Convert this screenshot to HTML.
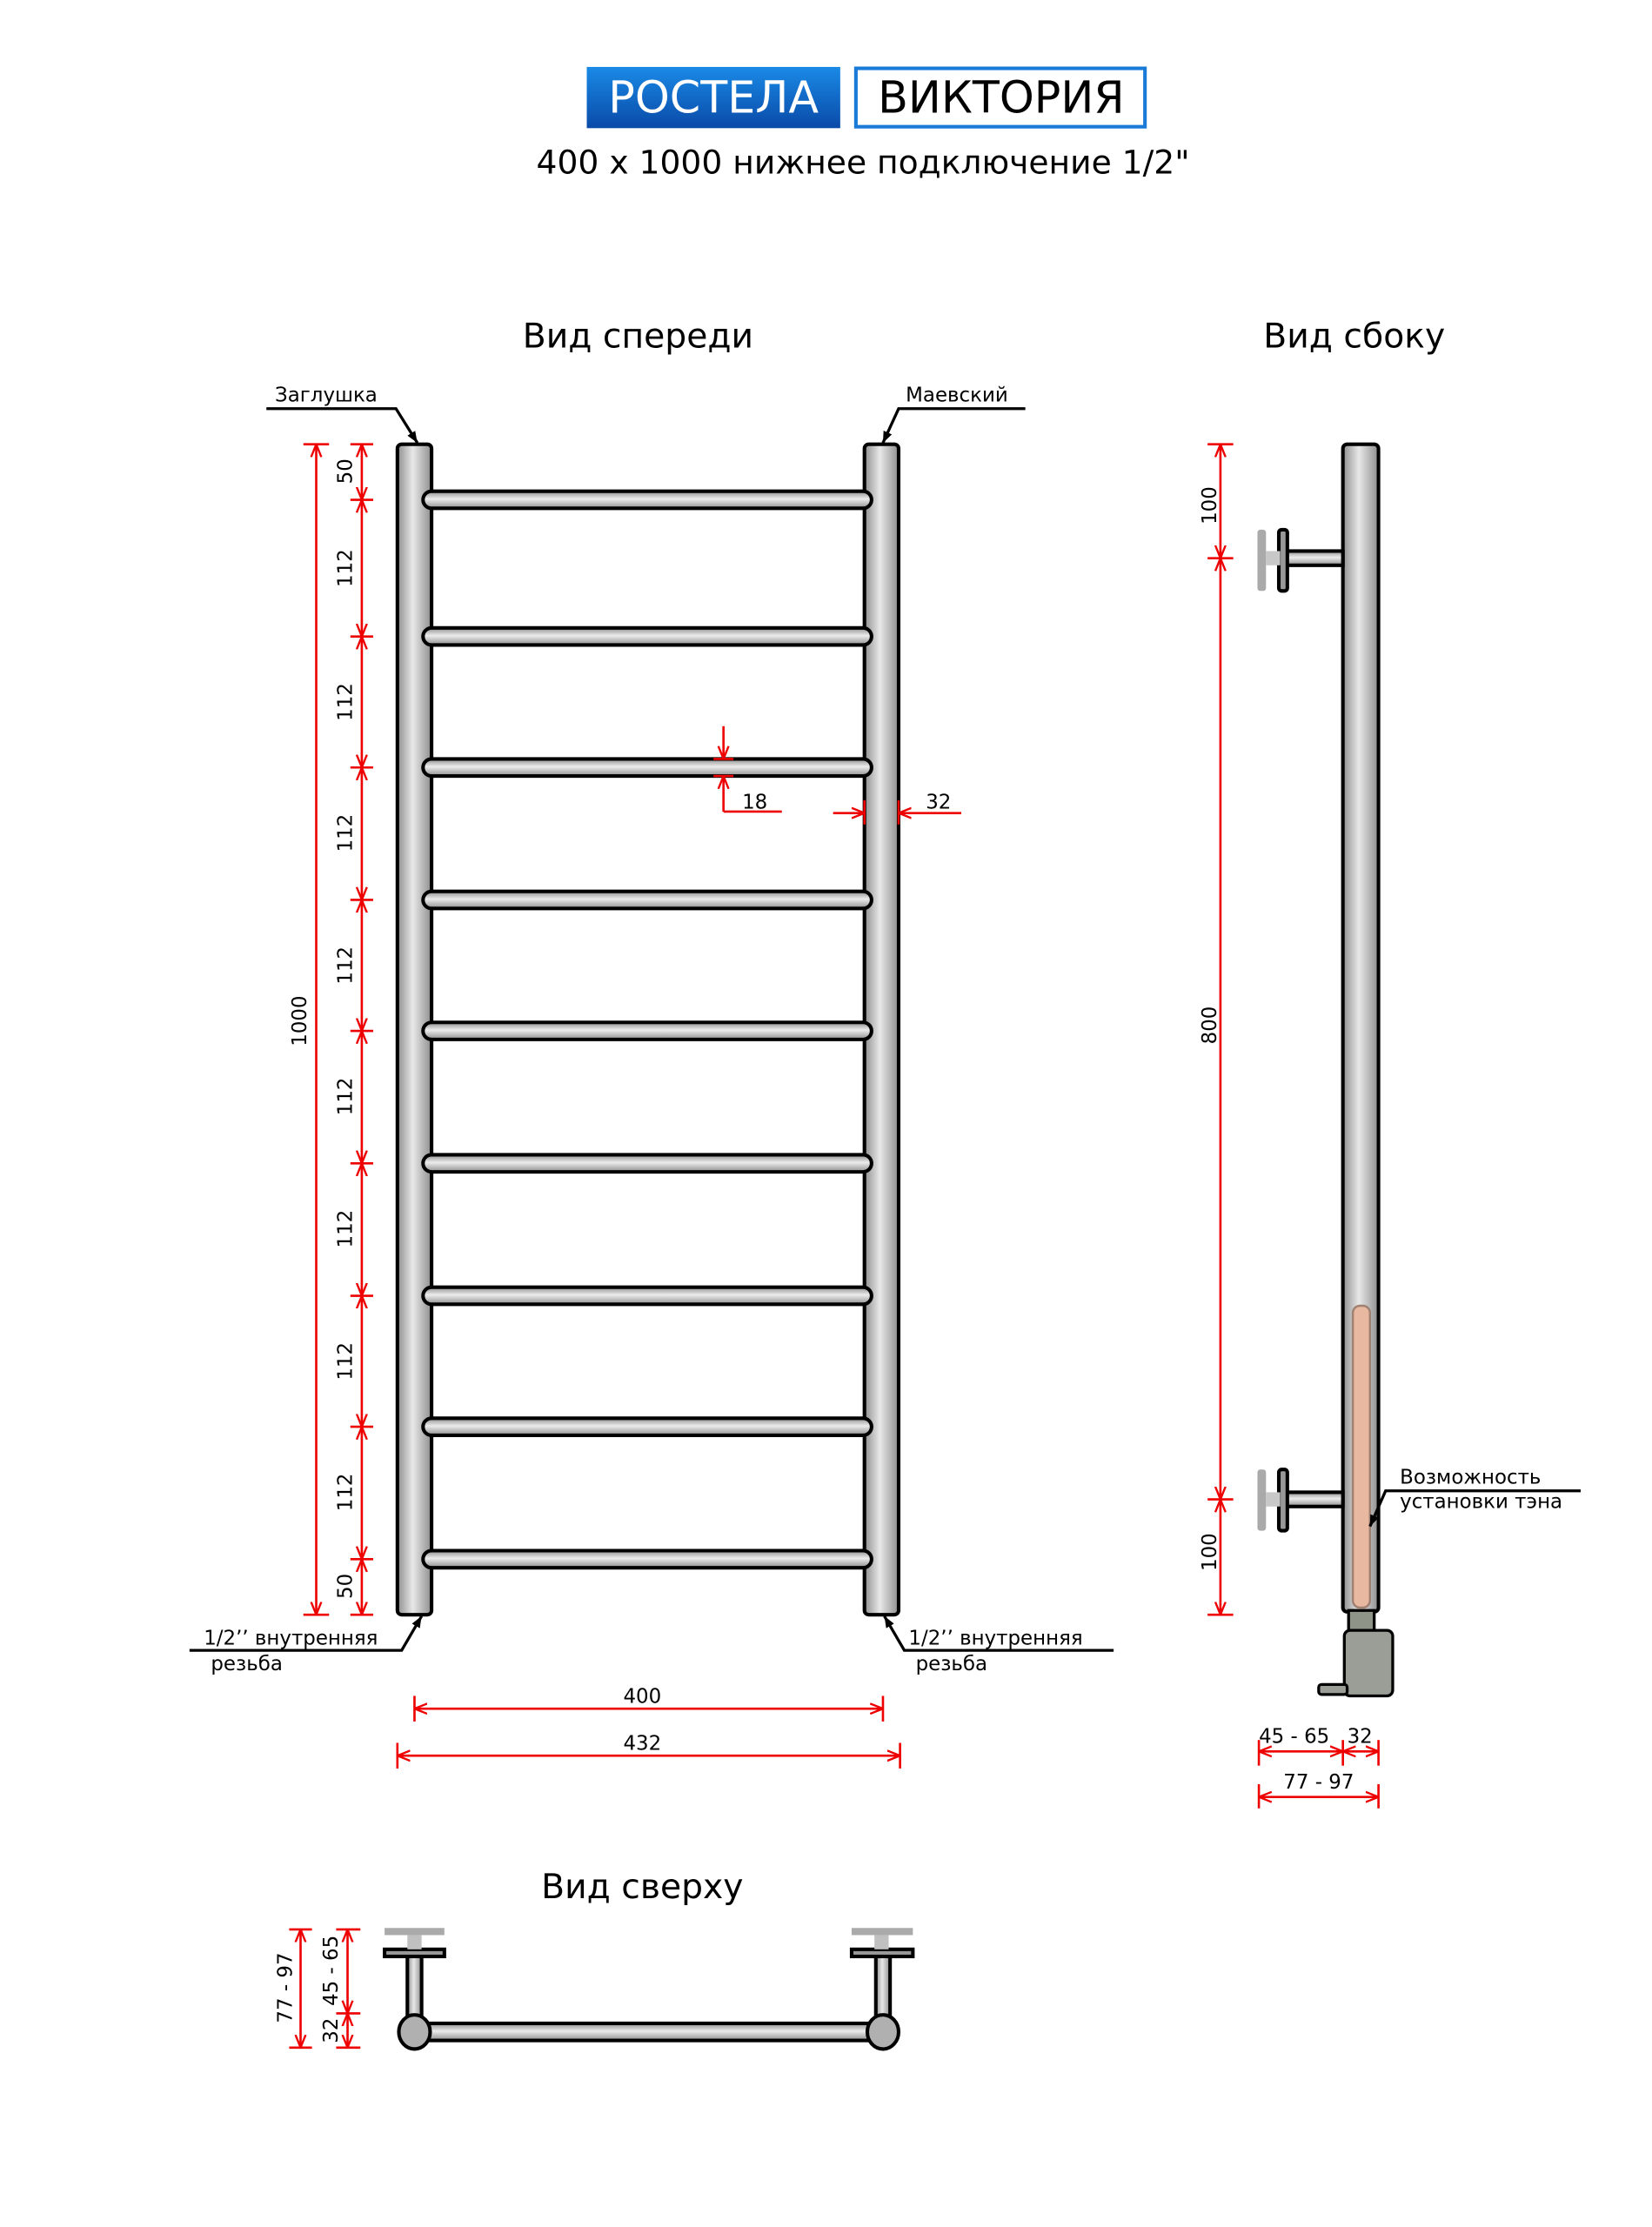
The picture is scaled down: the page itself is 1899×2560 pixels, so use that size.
<!DOCTYPE html>
<html><head><meta charset="utf-8"><style>html,body{margin:0;padding:0;background:#fff}svg{display:block}</style></head><body>
<svg width="1899" height="2560" viewBox="0 0 1160 1564" xmlns="http://www.w3.org/2000/svg" font-family="'DejaVu Sans','Liberation Sans',sans-serif">
<defs>
<linearGradient id="tv" x1="0" x2="1" y1="0" y2="0"><stop offset="0" stop-color="#8e8e8e"/><stop offset="0.45" stop-color="#e8e8e8"/><stop offset="1" stop-color="#8e8e8e"/></linearGradient>
<linearGradient id="th" x1="0" x2="0" y1="0" y2="1"><stop offset="0" stop-color="#8e8e8e"/><stop offset="0.45" stop-color="#ececec"/><stop offset="1" stop-color="#8e8e8e"/></linearGradient>
<linearGradient id="bl" x1="0" x2="0" y1="0" y2="1"><stop offset="0" stop-color="#1a8ae6"/><stop offset="1" stop-color="#0a4aa8"/></linearGradient>
<marker id="a" viewBox="0 0 10 10" refX="10" refY="5" markerWidth="9" markerHeight="9" orient="auto-start-reverse" markerUnits="userSpaceOnUse"><path d="M0,1 L10,5 L0,9" fill="none" stroke="#e00" stroke-width="1.6"/></marker>
<marker id="k" viewBox="0 0 10 10" refX="10" refY="5" markerWidth="8" markerHeight="8" orient="auto" markerUnits="userSpaceOnUse"><path d="M0,1 L10,5 L0,9 z" fill="#000"/></marker>
</defs>

<rect x="412" y="47" width="178" height="43" fill="url(#bl)"/>
<text x="501" y="79" font-size="31" fill="#fff" text-anchor="middle">РОСТЕЛА</text>
<rect x="601" y="48" width="203" height="41" fill="#fff" stroke="#1a7ad8" stroke-width="2.5"/>
<text x="703" y="79" font-size="31" fill="#000" text-anchor="middle">ВИКТОРИЯ</text>
<text x="606" y="122" font-size="23" text-anchor="middle">400 x 1000 нижнее подключение 1/2"</text>

<g font-size="24" text-anchor="middle" font-weight="500">
<text x="448" y="244">Вид спереди</text>
<text x="951" y="244">Вид сбоку</text>
<text x="451" y="1333">Вид сверху</text>
</g>

<g stroke="#000" stroke-width="2.5">
<rect x="279" y="312" width="24" height="822" rx="3" fill="url(#tv)"/>
<rect x="607" y="312" width="24" height="822" rx="3" fill="url(#tv)"/>
<g fill="url(#th)">
<rect x="297" y="345" width="315" height="12" rx="6"/>
<rect x="297" y="441" width="315" height="12" rx="6"/>
<rect x="297" y="533" width="315" height="12" rx="6"/>
<rect x="297" y="626" width="315" height="12" rx="6"/>
<rect x="297" y="718" width="315" height="12" rx="6"/>
<rect x="297" y="811" width="315" height="12" rx="6"/>
<rect x="297" y="904" width="315" height="12" rx="6"/>
<rect x="297" y="996" width="315" height="12" rx="6"/>
<rect x="297" y="1089" width="315" height="12" rx="6"/>
</g></g>

<g font-size="14">
<text x="193" y="282">Заглушка</text>
<text x="636" y="282">Маевский</text>
<text x="143" y="1155">1/2’’ внутренняя</text>
<text x="148" y="1173">резьба</text>
<text x="638" y="1155">1/2’’ внутренняя</text>
<text x="643" y="1173">резьба</text>
</g>
<g stroke="#000" stroke-width="2" fill="none">
<polyline points="187,287 278,287 293,311" marker-end="url(#k)"/>
<polyline points="720,287 631,287 620,311" marker-end="url(#k)"/>
<polyline points="133,1159 282,1159 296,1135" marker-end="url(#k)"/>
<polyline points="782,1159 635,1159 621,1135" marker-end="url(#k)"/>
</g>

<g stroke="#e00" stroke-width="1.6" fill="none">
<line x1="222" y1="312" x2="222" y2="1134" marker-start="url(#a)" marker-end="url(#a)"/>
<line x1="213" y1="312" x2="231" y2="312"/><line x1="213" y1="1134" x2="231" y2="1134"/>
<line x1="254" y1="312" x2="254" y2="351" marker-start="url(#a)" marker-end="url(#a)"/>
<line x1="254" y1="351" x2="254" y2="447" marker-start="url(#a)" marker-end="url(#a)"/>
<line x1="254" y1="447" x2="254" y2="539" marker-start="url(#a)" marker-end="url(#a)"/>
<line x1="254" y1="539" x2="254" y2="632" marker-start="url(#a)" marker-end="url(#a)"/>
<line x1="254" y1="632" x2="254" y2="724" marker-start="url(#a)" marker-end="url(#a)"/>
<line x1="254" y1="724" x2="254" y2="817" marker-start="url(#a)" marker-end="url(#a)"/>
<line x1="254" y1="817" x2="254" y2="910" marker-start="url(#a)" marker-end="url(#a)"/>
<line x1="254" y1="910" x2="254" y2="1002" marker-start="url(#a)" marker-end="url(#a)"/>
<line x1="254" y1="1002" x2="254" y2="1095" marker-start="url(#a)" marker-end="url(#a)"/>
<line x1="254" y1="1095" x2="254" y2="1134" marker-start="url(#a)" marker-end="url(#a)"/>
<g>
<line x1="246" y1="312" x2="262" y2="312"/><line x1="246" y1="351" x2="262" y2="351"/><line x1="246" y1="447" x2="262" y2="447"/>
<line x1="246" y1="539" x2="262" y2="539"/><line x1="246" y1="632" x2="262" y2="632"/><line x1="246" y1="724" x2="262" y2="724"/>
<line x1="246" y1="817" x2="262" y2="817"/><line x1="246" y1="910" x2="262" y2="910"/><line x1="246" y1="1002" x2="262" y2="1002"/>
<line x1="246" y1="1095" x2="262" y2="1095"/><line x1="246" y1="1134" x2="262" y2="1134"/>
</g>
<line x1="508" y1="510" x2="508" y2="533" marker-end="url(#a)"/>
<line x1="508" y1="570" x2="508" y2="545" marker-end="url(#a)"/>
<line x1="501" y1="533" x2="515" y2="533"/><line x1="501" y1="545" x2="515" y2="545"/>
<line x1="508" y1="570" x2="549" y2="570"/>
<line x1="585" y1="571" x2="607" y2="571" marker-end="url(#a)"/>
<line x1="675" y1="571" x2="631" y2="571" marker-end="url(#a)"/>
<line x1="607" y1="562" x2="607" y2="579"/><line x1="631" y1="562" x2="631" y2="579"/>
<line x1="291" y1="1200" x2="620" y2="1200" marker-start="url(#a)" marker-end="url(#a)"/>
<line x1="291" y1="1191" x2="291" y2="1209"/><line x1="620" y1="1191" x2="620" y2="1209"/>
<line x1="279" y1="1233" x2="632" y2="1233" marker-start="url(#a)" marker-end="url(#a)"/>
<line x1="279" y1="1224" x2="279" y2="1242"/><line x1="632" y1="1224" x2="632" y2="1242"/>
</g>
<g font-size="14">
<text x="530" y="568" text-anchor="middle">18</text>
<text x="659" y="568" text-anchor="middle">32</text>
<text x="451" y="1196" text-anchor="middle">400</text>
<text x="451" y="1229" text-anchor="middle">432</text>
<text transform="translate(215,717) rotate(-90)" text-anchor="middle">1000</text>
<g text-anchor="middle">
<text transform="translate(247,331) rotate(-90)">50</text>
<text transform="translate(247,399) rotate(-90)">112</text>
<text transform="translate(247,493) rotate(-90)">112</text>
<text transform="translate(247,585) rotate(-90)">112</text>
<text transform="translate(247,678) rotate(-90)">112</text>
<text transform="translate(247,770) rotate(-90)">112</text>
<text transform="translate(247,863) rotate(-90)">112</text>
<text transform="translate(247,956) rotate(-90)">112</text>
<text transform="translate(247,1048) rotate(-90)">112</text>
<text transform="translate(247,1114) rotate(-90)">50</text>
<text transform="translate(854,355) rotate(-90)">100</text>
<text transform="translate(854,720) rotate(-90)">800</text>
<text transform="translate(854,1090) rotate(-90)">100</text>
</g></g>

<g stroke="#000" stroke-width="2.5">
<rect x="943" y="312" width="25" height="820" rx="3" fill="url(#tv)"/>
<rect x="903" y="387" width="40" height="10" fill="url(#th)"/>
<rect x="903" y="1048" width="40" height="10" fill="url(#th)"/>
<rect x="898" y="372" width="6" height="43" rx="2" fill="#999"/>
<rect x="898" y="1032" width="6" height="43" rx="2" fill="#999"/>
</g>
<rect x="883" y="372" width="6" height="43" rx="2" fill="#aaa"/>
<rect x="889" y="387" width="10" height="10" fill="#c8c8c8"/>
<rect x="883" y="1032" width="6" height="43" rx="2" fill="#aaa"/>
<rect x="889" y="1048" width="10" height="10" fill="#c8c8c8"/>
<rect x="950" y="917" width="12" height="212" rx="5" fill="#e8b9a0" stroke="#a08070" stroke-width="1.5"/>
<g stroke="#000" stroke-width="2">
<rect x="947" y="1131" width="18" height="16" fill="#8e9488"/>
<rect x="944" y="1145" width="34" height="46" rx="4" fill="#9a9e96"/>
<rect x="926" y="1183" width="20" height="7" rx="2" fill="#9a9e96"/>
</g>
<g font-size="14">
<text x="983" y="1042">Возможность</text>
<text x="983" y="1059">установки тэна</text>
</g>
<polyline points="1110,1047 973,1047 962,1072" fill="none" stroke="#000" stroke-width="2" marker-end="url(#k)"/>
<g stroke="#e00" stroke-width="1.6" fill="none">
<line x1="857" y1="312" x2="857" y2="392" marker-start="url(#a)" marker-end="url(#a)"/>
<line x1="857" y1="392" x2="857" y2="1053" marker-start="url(#a)" marker-end="url(#a)"/>
<line x1="857" y1="1053" x2="857" y2="1134" marker-start="url(#a)" marker-end="url(#a)"/>
<line x1="848" y1="312" x2="866" y2="312"/><line x1="848" y1="392" x2="866" y2="392"/>
<line x1="848" y1="1053" x2="866" y2="1053"/><line x1="848" y1="1134" x2="866" y2="1134"/>
<line x1="884" y1="1230" x2="943" y2="1230" marker-start="url(#a)" marker-end="url(#a)"/>
<line x1="943" y1="1230" x2="968" y2="1230" marker-start="url(#a)" marker-end="url(#a)"/>
<line x1="884" y1="1222" x2="884" y2="1240"/><line x1="943" y1="1222" x2="943" y2="1240"/><line x1="968" y1="1222" x2="968" y2="1240"/>
<line x1="884" y1="1262" x2="968" y2="1262" marker-start="url(#a)" marker-end="url(#a)"/>
<line x1="884" y1="1253" x2="884" y2="1270"/><line x1="968" y1="1253" x2="968" y2="1270"/>
</g>
<g font-size="14">
<text x="884" y="1224">45 - 65</text><text x="946" y="1224">32</text>
<text x="926" y="1256" text-anchor="middle">77 - 97</text>
</g>

<g stroke="#000" stroke-width="2.5">
<rect x="286" y="1373" width="10" height="46" fill="url(#tv)"/>
<rect x="615" y="1373" width="10" height="46" fill="url(#tv)"/>
<rect x="270" y="1369" width="42" height="5" fill="#999"/>
<rect x="598" y="1369" width="43" height="5" fill="#999"/>
<rect x="291" y="1421" width="329" height="12" fill="url(#th)"/>
<ellipse cx="291" cy="1427" rx="11" ry="12" fill="#b0b0b0"/>
<ellipse cx="620" cy="1427" rx="11" ry="12" fill="#b0b0b0"/>
</g>
<rect x="270" y="1354" width="42" height="5" fill="#aaa"/>
<rect x="286" y="1359" width="10" height="10" fill="#c0c0c0"/>
<rect x="598" y="1354" width="43" height="5" fill="#aaa"/>
<rect x="614" y="1359" width="10" height="10" fill="#c0c0c0"/>
<g stroke="#e00" stroke-width="1.6" fill="none">
<line x1="211" y1="1355" x2="211" y2="1438" marker-start="url(#a)" marker-end="url(#a)"/>
<line x1="203" y1="1355" x2="219" y2="1355"/><line x1="203" y1="1438" x2="219" y2="1438"/>
<line x1="244" y1="1355" x2="244" y2="1414" marker-start="url(#a)" marker-end="url(#a)"/>
<line x1="244" y1="1414" x2="244" y2="1438" marker-start="url(#a)" marker-end="url(#a)"/>
<line x1="236" y1="1355" x2="253" y2="1355"/><line x1="236" y1="1414" x2="253" y2="1414"/><line x1="236" y1="1438" x2="253" y2="1438"/>
</g>
<g font-size="14" text-anchor="middle">
<text transform="translate(205,1396) rotate(-90)">77 - 97</text>
<text transform="translate(237,1384) rotate(-90)">45 - 65</text>
<text transform="translate(237,1426) rotate(-90)">32</text>
</g>
</svg>
</body></html>
